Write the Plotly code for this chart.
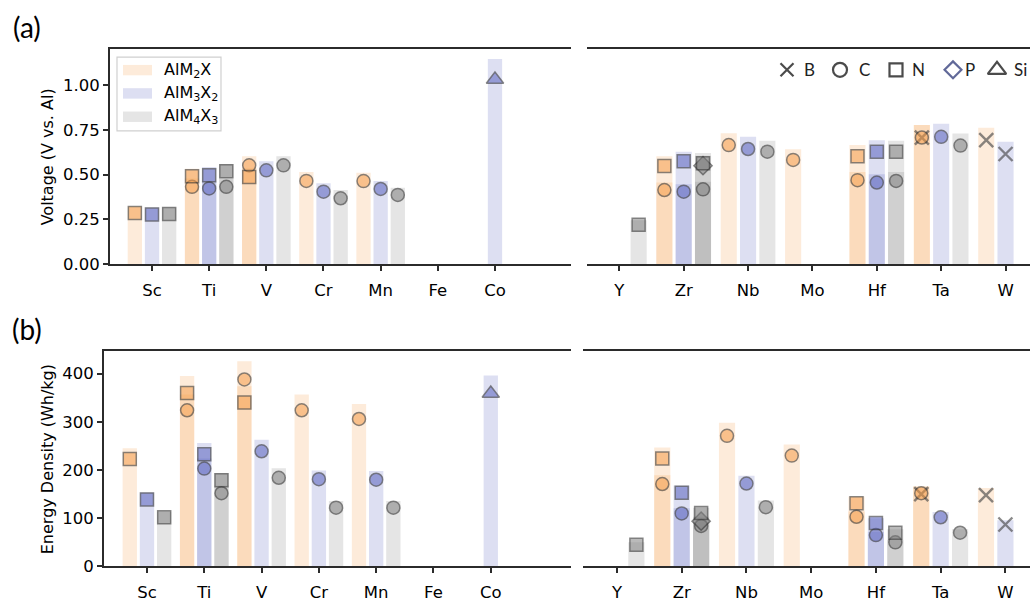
import plotly.graph_objects as go

# ---- data -----------------------------------------------------------------
elements_left = ["Sc", "Ti", "V", "Cr", "Mn", "Fe", "Co"]
elements_right = ["Y", "Zr", "Nb", "Mo", "Hf", "Ta", "W"]
phase_labels = ["AlM<sub>2</sub>X", "AlM<sub>3</sub>X<sub>2</sub>", "AlM<sub>4</sub>X<sub>3</sub>"]
x_species = ["B", "C", "N", "P", "Si"]

entry_element = ["Sc", "Sc", "Sc", "Ti", "Ti", "Ti", "Ti", "Ti", "Ti", "V", "V", "V", "V",
                 "Cr", "Cr", "Cr", "Mn", "Mn", "Mn", "Co",
                 "Y", "Zr", "Zr", "Zr", "Zr", "Zr", "Zr", "Zr", "Nb", "Nb", "Nb", "Mo",
                 "Hf", "Hf", "Hf", "Hf", "Hf", "Hf", "Ta", "Ta", "Ta", "Ta", "W", "W"]
entry_phase = [0, 1, 2, 0, 0, 1, 1, 2, 2, 0, 0, 1, 2,
               0, 1, 2, 0, 1, 2, 1,
               2, 0, 0, 1, 1, 2, 2, 2, 0, 1, 2, 0,
               0, 0, 1, 1, 2, 2, 0, 0, 1, 2, 0, 1]
entry_x = ["N", "N", "N", "C", "N", "C", "N", "C", "N", "C", "N", "C", "C",
           "C", "C", "C", "C", "C", "C", "Si",
           "N", "C", "N", "C", "N", "C", "P", "N", "C", "C", "C", "C",
           "C", "N", "C", "N", "C", "N", "B", "C", "C", "C", "B", "B"]
# average voltage (V vs. Al) and the bar height drawn behind it
voltage = [0.286, 0.277, 0.280, 0.432, 0.491, 0.423, 0.497, 0.432, 0.519, 0.552, 0.487, 0.524, 0.552,
           0.465, 0.405, 0.368, 0.464, 0.420, 0.387, 1.031,
           0.220, 0.414, 0.548, 0.405, 0.574, 0.418, 0.550, 0.564, 0.665, 0.643, 0.628, 0.582,
           0.469, 0.603, 0.456, 0.628, 0.465, 0.628, 0.707, 0.707, 0.711, 0.662, 0.692, 0.615]
voltage_bar = [0.323, 0.318, 0.318, 0.478, 0.533, 0.466, 0.542, 0.476, 0.560, 0.603, 0.536, 0.575, 0.603,
               0.515, 0.452, 0.414, 0.511, 0.465, 0.427, 1.145,
               0.245, 0.456, 0.603, 0.446, 0.628, 0.460, 0.605, 0.620, 0.731, 0.711, 0.689, 0.641,
               0.515, 0.665, 0.502, 0.692, 0.515, 0.689, 0.777, 0.777, 0.784, 0.729, 0.762, 0.684]
# energy density (Wh/kg) and the bar height drawn behind it
energy = [223, 139, 102, 324, 360, 203, 233, 152, 179, 388, 340, 239, 184,
          324, 181, 122, 306, 180, 122, 359,
          45, 171, 224, 110, 153, 84, 94, 111, 271, 172, 123, 230,
          103, 131, 65, 90, 50, 70, 150, 152, 102, 70, 148, 87]
energy_bar = [245, 154, 114, 357, 395, 224, 256, 168, 194, 426, 374, 263, 204,
              357, 199, 136, 337, 198, 136, 396,
              50, 189, 247, 121, 168, 93, 103, 122, 298, 188, 137, 253,
              114, 145, 72, 100, 55, 77, 165, 167, 113, 77, 163, 96]

# ---- style ----------------------------------------------------------------
W, H = 1030, 603
phase_rgb = ["245,155,70", "85,95,190", "125,125,125"]
bar_alpha, marker_alpha = 0.2, 0.75
bar_width, phase_offset = 0.25, 0.3
symbol_of = {"B": "x-thin", "C": "circle", "N": "square", "P": "diamond", "Si": "triangle-up"}
size_of = {"B": 14, "C": 13, "N": 13, "P": 14, "Si": 15}
edge = "rgba(45,45,45,0.8)"
axis_col = "#2b2b2b"
tick_font = dict(family="DejaVu Sans", size=16.5, color="black")


def px_x(p):
    return p / W


def px_y(p):
    return 1 - p / H


fig = go.Figure()

# panel -> (axis suffix, element list, values, bar values)
panels = [
    ("", elements_left, voltage, voltage_bar),
    ("2", elements_right, voltage, voltage_bar),
    ("3", elements_left, energy, energy_bar),
    ("4", elements_right, energy, energy_bar),
]

for suffix, elems, vals, bars in panels:
    idx = [i for i, e in enumerate(entry_element) if e in elems]
    xa, ya = "x" + suffix, "y" + suffix
    # translucent bars, one trace per phase; overlapping bars darken
    for ph in range(3):
        sel = [i for i in idx if entry_phase[i] == ph]
        fig.add_trace(go.Bar(
            x=[elems.index(entry_element[i]) + (ph - 1) * phase_offset for i in sel],
            y=[bars[i] for i in sel],
            width=bar_width,
            marker=dict(color=f"rgba({phase_rgb[ph]},{bar_alpha})", line=dict(width=0)),
            xaxis=xa, yaxis=ya, showlegend=False, hoverinfo="skip",
        ))
    # markers on top
    for ph in range(3):
        sel = [i for i in idx if entry_phase[i] == ph]
        fig.add_trace(go.Scatter(
            x=[elems.index(entry_element[i]) + (ph - 1) * phase_offset for i in sel],
            y=[vals[i] for i in sel],
            mode="markers",
            marker=dict(
                symbol=[symbol_of[entry_x[i]] for i in sel],
                size=[size_of[entry_x[i]] for i in sel],
                color=f"rgba({phase_rgb[ph]},{marker_alpha})",
                line=dict(color=[("rgba(70,70,70,0.9)" if entry_x[i] == "B" else edge) for i in sel],
                          width=[(2.4 if entry_x[i] == "B" else 1.5) for i in sel]),
            ),
            xaxis=xa, yaxis=ya, showlegend=False, hoverinfo="skip", cliponaxis=False,
        ))

# ---- marker-shape key (top right of panel a) -------------------------------
key_y = 71
key_marker_x = [787, 840, 896, 953, 997]
key_text_x = [809, 864, 918, 970, 1020]
key_sizes = [13, 14, 13, 13, 16]
key_colors = ["black", "black", "black", "#1f2a6e", "black"]
fig.add_trace(go.Scatter(
    x=key_marker_x, y=[key_y] * 5, mode="markers",
    marker=dict(symbol=[symbol_of[s] for s in x_species], size=key_sizes, color="white",
                line=dict(color=key_colors, width=2.2)),
    xaxis="x5", yaxis="y5", showlegend=False, hoverinfo="skip", cliponaxis=False,
))

annotations = []
for s, tx in zip(x_species, key_text_x):
    annotations.append(dict(x=px_x(tx), y=px_y(key_y), xref="paper", yref="paper", text=s,
                            showarrow=False, xanchor="center", yanchor="middle",
                            font=dict(family="Lato", size=17, color="#222")))

# ---- phase legend (top left of panel a) ------------------------------------
shapes = [dict(type="rect", xref="paper", yref="paper",
               x0=px_x(117), x1=px_x(221), y0=px_y(133), y1=px_y(58),
               line=dict(color="#d0d0d0", width=1.2), fillcolor="rgba(255,255,255,0.8)", layer="above")]
for k, cy in enumerate([71.3, 95, 118.7]):
    shapes.append(dict(type="rect", xref="paper", yref="paper",
                       x0=px_x(123), x1=px_x(152), y0=px_y(cy + 5.3), y1=px_y(cy - 5.3),
                       line=dict(width=0), fillcolor=f"rgba({phase_rgb[k]},{bar_alpha})", layer="above"))
    annotations.append(dict(x=px_x(162), y=px_y(cy), xref="paper", yref="paper", text=phase_labels[k],
                            showarrow=False, xanchor="left", yanchor="middle",
                            font=dict(family="DejaVu Sans", size=16, color="black")))

# panel letters and y titles
annotations += [
    dict(x=px_x(27), y=px_y(27), xref="paper", yref="paper", text="(a)", showarrow=False,
         xanchor="center", yanchor="middle", font=dict(family="Lato", size=28, color="black")),
    dict(x=px_x(27), y=px_y(335), xref="paper", yref="paper", text="(b)", showarrow=False,
         xanchor="center", yanchor="middle", font=dict(family="Lato", size=28, color="black")),
    dict(x=px_x(47), y=px_y(160), xref="paper", yref="paper", text="Voltage (V vs. Al)", textangle=-90,
         showarrow=False, xanchor="center", yanchor="middle",
         font=dict(family="DejaVu Sans", size=16, color="black")),
    dict(x=px_x(47), y=px_y(467), xref="paper", yref="paper", text="Energy Density (Wh/kg)", textangle=-90,
         showarrow=False, xanchor="center", yanchor="middle",
         font=dict(family="DejaVu Sans", size=16, color="black")),
]


def xaxis(domain, rng, labels, anchor):
    return dict(domain=domain, range=rng, anchor=anchor, tickmode="array",
                tickvals=list(range(len(labels))), ticktext=labels,
                ticks="outside", ticklen=5, tickwidth=1.5, tickcolor=axis_col, ticklabelstandoff=5,
                showline=True, linecolor=axis_col, linewidth=1.8, mirror=True,
                showgrid=False, zeroline=False, tickfont=tick_font, fixedrange=True)


def yaxis(domain, rng, anchor, tickvals=None, fmt=None):
    d = dict(domain=domain, range=rng, anchor=anchor, showgrid=False, zeroline=False, fixedrange=True)
    if tickvals is None:
        d.update(showticklabels=False, ticks="", showline=False)
    else:
        d.update(tickmode="array", tickvals=tickvals, tickformat=fmt, ticks="outside", ticklen=5,
                 tickwidth=1.5, tickcolor=axis_col, showline=True, linecolor=axis_col, linewidth=1.8,
                 tickfont=tick_font)
    return d


top_dom = [px_y(268.7), px_y(50)]
bot_dom = [px_y(576), px_y(356.7)]

fig.update_layout(
    width=W, height=H, margin=dict(l=0, r=0, t=0, b=0),
    paper_bgcolor="white", plot_bgcolor="rgba(0,0,0,0)",
    barmode="overlay", showlegend=False,
    xaxis=xaxis([px_x(110), px_x(571)], [-0.735, 7.33], elements_left, "y"),
    yaxis=yaxis(top_dom, [0, 1.2], "x", [0, 0.25, 0.5, 0.75, 1.0], ".2f"),
    xaxis2=xaxis([px_x(587), 1], [-0.502, 6.38], elements_right, "y2"),
    yaxis2=yaxis(top_dom, [0, 1.2], "x2"),
    xaxis3=xaxis([px_x(104), px_x(571)], [-0.75, 7.40], elements_left, "y3"),
    yaxis3=yaxis(bot_dom, [0, 447.5], "x3", [0, 100, 200, 300, 400], "d"),
    xaxis4=xaxis([px_x(583.3), 1], [-0.52, 6.38], elements_right, "y4"),
    yaxis4=yaxis(bot_dom, [0, 447.5], "x4"),
    xaxis5=dict(domain=[0, 1], range=[0, W], anchor="y5", visible=False, fixedrange=True),
    yaxis5=dict(domain=[0, 1], range=[H, 0], anchor="x5", visible=False, fixedrange=True),
    shapes=shapes, annotations=annotations,
)

fig.write_html("out.html")
